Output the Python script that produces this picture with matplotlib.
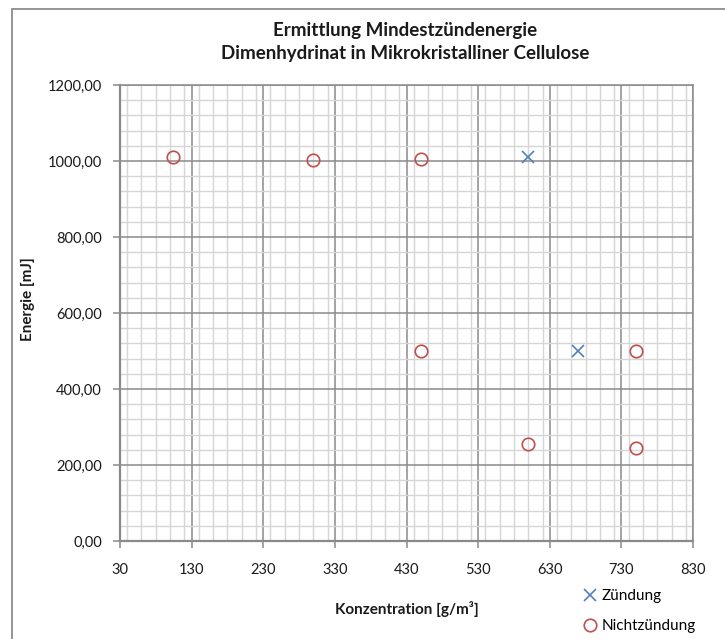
import numpy as np
import matplotlib
matplotlib.use('Agg')
import matplotlib.pyplot as plt
from matplotlib.patches import Rectangle
from matplotlib.ticker import MultipleLocator

plt.rcParams['font.family'] = ['Lato', 'DejaVu Sans']

# data
zuendung_x = [600, 670]
zuendung_y = [1010, 500]
nicht_x = [104, 300, 450, 450, 600, 750, 750]
nicht_y = [1010, 1003, 1006, 500, 255, 500, 245]

x_ticks = [30, 130, 230, 330, 430, 530, 630, 730, 830]
y_ticks = [0, 200, 400, 600, 800, 1000, 1200]
y_ticklabels = ['{:.2f}'.format(v).replace('.', ',') for v in y_ticks]

title = 'Ermittlung Mindestzündenergie\nDimenhydrinat in Mikrokristalliner Cellulose'
xlabel = 'Konzentration [g/m³]'
ylabel = 'Energie [mJ]'

major_col = '#8a8a8a'
minor_col = '#d6d6d6'

fig = plt.figure(figsize=(7.25, 6.39), dpi=100)
ax = fig.add_axes([120/725, 1 - 541/639, 573/725, 456/639])

# outer chart frame (Excel style)
fig.patches.append(Rectangle((12/725, -0.2), 2.0, 1.2 - 9/639, transform=fig.transFigure,
                             fill=False, edgecolor='#8c8c8c', lw=1.3, clip_on=False))

ax.set_xlim(30, 830)
ax.set_ylim(0, 1200)
ax.set_xticks(x_ticks)
ax.set_xticklabels([str(v) for v in x_ticks])
ax.set_yticks(y_ticks)
ax.set_yticklabels(y_ticklabels)
ax.xaxis.set_minor_locator(MultipleLocator(20))
ax.yaxis.set_minor_locator(MultipleLocator(40))

ax.grid(which='minor', color=minor_col, lw=1.0)
ax.grid(which='major', color=major_col, lw=1.1)
ax.set_axisbelow(True)

ax.tick_params(which='major', direction='out', length=5, width=1.1, color=major_col,
               labelsize=10.5, pad=8, labelcolor='#1a1a1a')
ax.tick_params(which='minor', length=0)
ax.tick_params(axis='x', pad=11)
for s in ax.spines.values():
    s.set_color(major_col)
    s.set_linewidth(1.1)
ax.spines['left'].set_linewidth(1.6)
ax.spines['bottom'].set_linewidth(1.6)

ax.plot(zuendung_x, zuendung_y, ls='none', marker='x', ms=8, mew=1.2,
        color='#4f81bd', label='Zündung', clip_on=False)
ax.plot(nicht_x, nicht_y, ls='none', marker='o', ms=9, mew=1.2,
        mfc='none', mec='#c0504d', label='Nichtzündung', clip_on=False)

ax.set_xlabel(xlabel, fontsize=11, fontweight='bold', labelpad=17, color='#1a1a1a')
ax.set_ylabel(ylabel, fontsize=11, fontweight='bold', color='#1a1a1a')
ax.yaxis.set_label_coords(-0.148, 0.53)

fig.text(405/725, 1 - 42/639, title, ha='center', va='center', fontsize=13.5,
         fontweight='bold', linespacing=1.4, color='#1a1a1a')

fig.legend(loc='upper left', bbox_to_anchor=(582/725, 1 - 589/639), frameon=False,
           fontsize=11, handletextpad=0.3, labelspacing=1.05, handlelength=1.0,
           borderaxespad=0, borderpad=0)

fig.savefig('out.png', dpi=100)
